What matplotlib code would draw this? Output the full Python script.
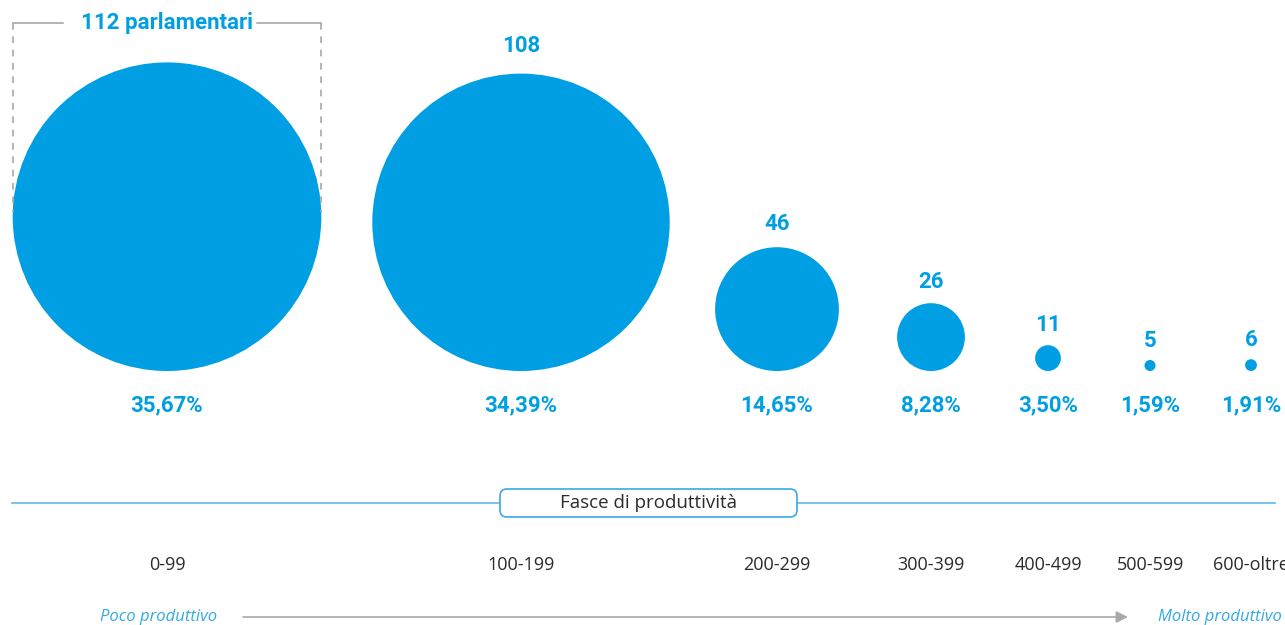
import matplotlib.pyplot as plt
from matplotlib.patches import Circle, FancyBboxPatch

# productivity bands and number of MPs in each
bands = ["0-99", "100-199", "200-299", "300-399", "400-499", "500-599", "600-oltre"]
counts = [112, 108, 46, 26, 11, 5, 6]
shares = ["35,67%", "34,39%", "14,65%", "8,28%", "3,50%", "1,59%", "1,91%"]
centers_x = [167, 521, 777, 931, 1048, 1150, 1251]

BLUE = "#009fe3"
GREY = "#a8a8a8"
DARK = "#2b2b2b"
bold = dict(family=["Roboto", "DejaVu Sans"], weight="bold", color=BLUE)
light = dict(family=["Open Sans", "DejaVu Sans"], color=DARK)

fig = plt.figure(figsize=(12.85, 6.25), dpi=100)
ax = fig.add_axes([0, 0, 1, 1])
ax.set_xlim(0, 1285)
ax.set_ylim(625, 0)
ax.axis("off")

base_y = 371  # circles sit on a common baseline


def radius(v):
    return max(1.40 * v - 2.5, 5.5)


for i, (x, v) in enumerate(zip(centers_x, counts)):
    r = radius(v)
    cy = base_y - r
    ax.add_patch(Circle((x, cy), r, color=BLUE, lw=0))
    ax.text(x, 405, shares[i], ha="center", va="center", fontsize=16, **bold)
    ax.text(x, 565, bands[i], ha="center", va="center", fontsize=13, **light)
    if i == 0:
        # bracket over the largest circle
        top = 23
        ax.text(x, top, f"{v} parlamentari", ha="center", va="center", fontsize=16, **bold)
        ax.plot([x - r, x - r + 50], [top, top], color=GREY, lw=1.2)
        ax.plot([x + r - 64, x + r], [top, top], color=GREY, lw=1.2)
        for bx in (x - r, x + r):
            ax.plot([bx, bx], [top, cy - 5], color=GREY, lw=1.2, ls=(0, (4, 4)))
    else:
        lab_y = cy - r - (19 + 0.06 * r)
        ax.text(x, lab_y, str(v), ha="center", va="center", fontsize=16, **bold)

# axis band with its label box
ax.plot([12, 1275], [503, 503], color="#5bbbe8", lw=1.2, zorder=1)
ax.add_patch(FancyBboxPatch((500, 489), 297, 28, boxstyle="round,pad=0,rounding_size=7",
                            fc="white", ec="#3aaae4", lw=1.2, zorder=2))
ax.text(648, 503, "Fasce di produttività", ha="center", va="center", fontsize=13.5,
        zorder=3, **light)

# direction arrow
ital = dict(family=["Open Sans", "DejaVu Sans"], style="italic", color="#33aae4", fontsize=12)
ax.text(217, 617, "Poco produttivo", ha="right", va="center", **ital)
ax.text(1158, 617, "Molto produttivo", ha="left", va="center", **ital)
ax.annotate("", xy=(1128, 617), xytext=(243, 617),
            arrowprops=dict(arrowstyle="-|>,head_length=0.7,head_width=0.35",
                            color=GREY, lw=1.2, shrinkA=0, shrinkB=0))

fig.savefig("out.png", dpi=100)
